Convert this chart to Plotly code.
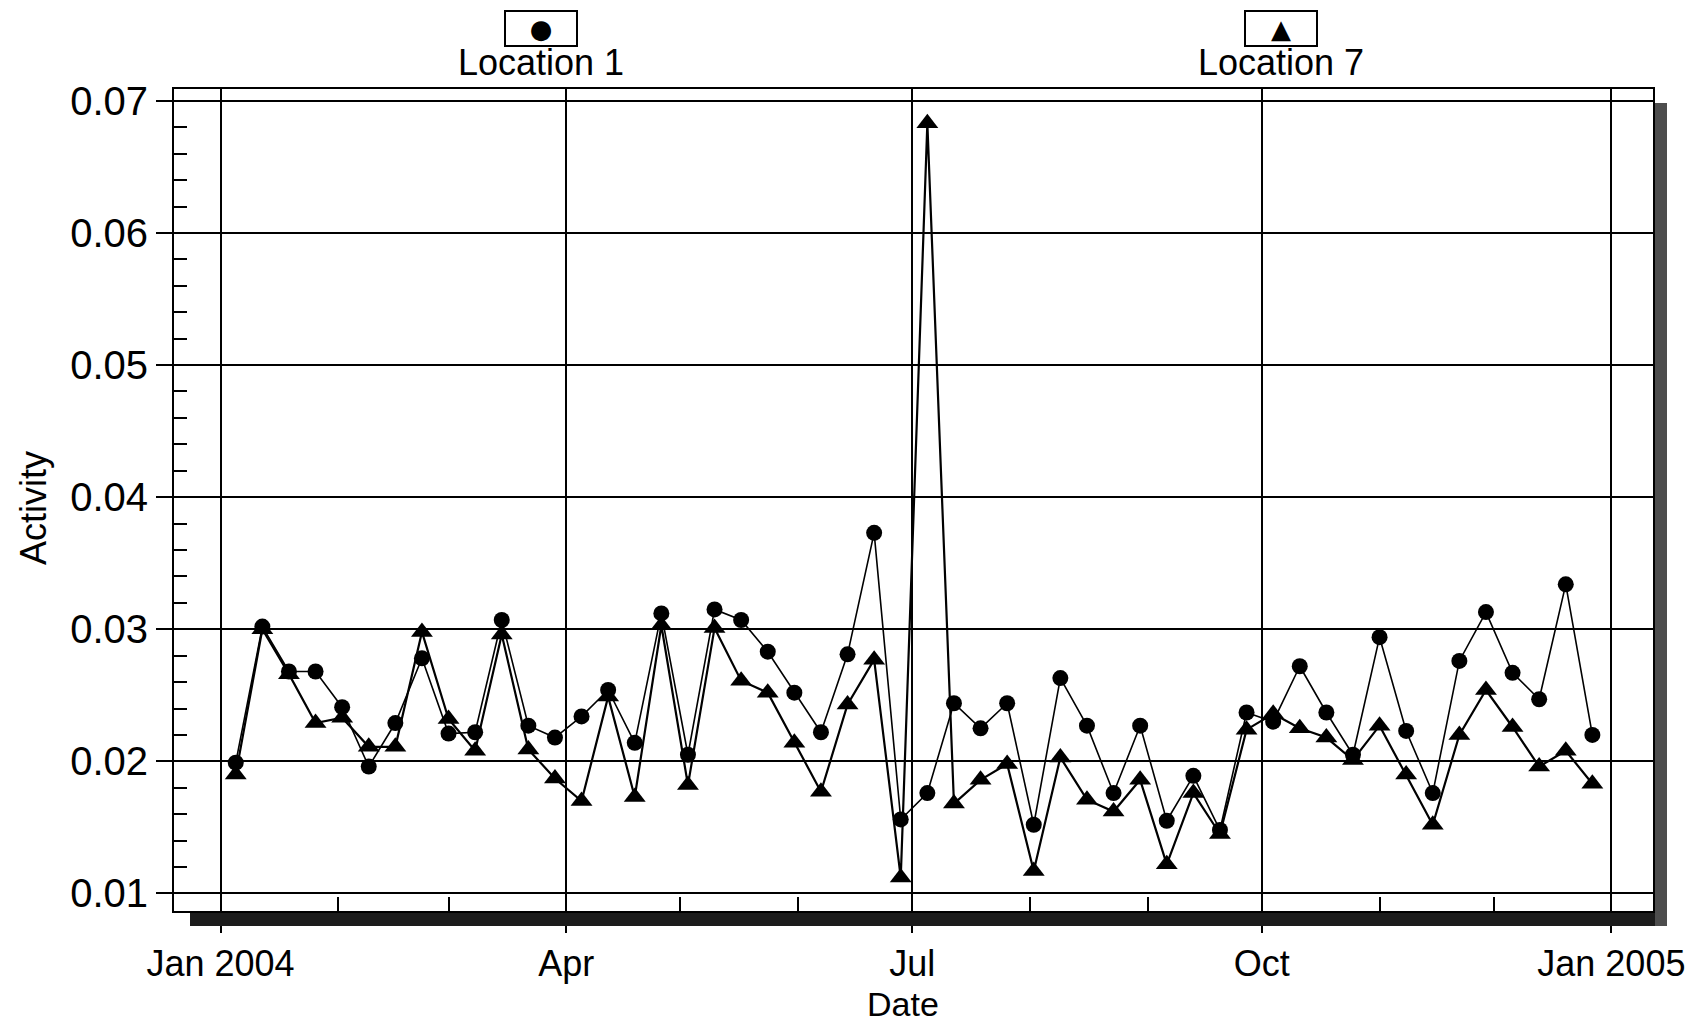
import plotly.graph_objects as go

# Weekly sampling dates (Mondays of 2004)
dates = [
    "2004-01-05", "2004-01-12", "2004-01-19", "2004-01-26",
    "2004-02-02", "2004-02-09", "2004-02-16", "2004-02-23",
    "2004-03-01", "2004-03-08", "2004-03-15", "2004-03-22", "2004-03-29",
    "2004-04-05", "2004-04-12", "2004-04-19", "2004-04-26",
    "2004-05-03", "2004-05-10", "2004-05-17", "2004-05-24", "2004-05-31",
    "2004-06-07", "2004-06-14", "2004-06-21", "2004-06-28",
    "2004-07-05", "2004-07-12", "2004-07-19", "2004-07-26",
    "2004-08-02", "2004-08-09", "2004-08-16", "2004-08-23", "2004-08-30",
    "2004-09-06", "2004-09-13", "2004-09-20", "2004-09-27",
    "2004-10-04", "2004-10-11", "2004-10-18", "2004-10-25",
    "2004-11-01", "2004-11-08", "2004-11-15", "2004-11-22", "2004-11-29",
    "2004-12-06", "2004-12-13", "2004-12-20", "2004-12-27",
]

location_1 = [
    0.0199, 0.0302, 0.0268, 0.0268, 0.0241, 0.0196, 0.0229, 0.0278, 0.0221, 0.0222, 0.0307, 0.0227, 0.0218,
    0.0234, 0.0254, 0.0214, 0.0312, 0.0205, 0.0315, 0.0307, 0.0283, 0.0252, 0.0222, 0.0281, 0.0373, 0.0156,
    0.0176, 0.0244, 0.0225, 0.0244, 0.0152, 0.0263, 0.0227, 0.0176, 0.0227, 0.0155, 0.0189, 0.0148, 0.0237,
    0.0230, 0.0272, 0.0237, 0.0205, 0.0294, 0.0223, 0.0176, 0.0276, 0.0313, 0.0267, 0.0247, 0.0334, 0.0220,
]

location_7 = [
    0.0190, 0.0300, 0.0266, 0.0229, 0.0233, 0.0211, 0.0211, 0.0298, 0.0232, 0.0208, 0.0296, 0.0209, 0.0187,
    0.0170, 0.0249, 0.0173, 0.0303, 0.0182, 0.0301, 0.0261, 0.0252, 0.0214, 0.0177, 0.0243, 0.0277, 0.0112,
    0.0683, 0.0168, 0.0186, 0.0198, 0.0117, 0.0203, 0.0171, 0.0162, 0.0186, 0.0122, 0.0176, 0.0145, 0.0224,
    0.0236, 0.0225, 0.0218, 0.0201, 0.0227, 0.0190, 0.0152, 0.0220, 0.0254, 0.0226, 0.0196, 0.0208, 0.0183,
]

x_tick_vals = ["2004-01-01", "2004-04-01", "2004-07-01", "2004-10-01", "2005-01-01"]
x_tick_text = ["Jan 2004", "Apr", "Jul", "Oct", "Jan 2005"]
month_starts = [
    "2004-02-01", "2004-03-01", "2004-05-01", "2004-06-01", "2004-08-01",
    "2004-09-01", "2004-11-01", "2004-12-01",
]
y_tick_vals = [0.01, 0.02, 0.03, 0.04, 0.05, 0.06, 0.07]
y_tick_text = ["0.01", "0.02", "0.03", "0.04", "0.05", "0.06", "0.07"]

W, H = 1703, 1024
L, R, T, B = 174, 1653, 89, 911  # plot area in pixels
FONT = "Liberation Sans, Arial, sans-serif"


def px(x):
    return (x - L) / (R - L)


def py(y):
    return (B - y) / (B - T)


fig = go.Figure()
fig.add_trace(go.Scatter(
    x=dates, y=location_1, mode="lines+markers", name="Location 1",
    line=dict(color="black", width=1.6),
    marker=dict(symbol="circle", size=16, color="black"),
))
fig.add_trace(go.Scatter(
    x=dates, y=location_7, mode="lines+markers", name="Location 7",
    line=dict(color="black", width=2.2),
    marker=dict(symbol="triangle-up", size=19, color="black"),
))

axis_common = dict(
    showgrid=True, gridcolor="black",
    showline=True, linecolor="black", linewidth=2, mirror=True,
    tickcolor="black", tickwidth=1.6, zeroline=False,
)

fig.update_xaxes(
    type="date",
    range=["2003-12-19 18:00", "2005-01-11 23:00"],
    tickmode="array", tickvals=x_tick_vals, ticktext=x_tick_text,
    ticks="outside", ticklen=20, gridwidth=1.6,
    tickfont=dict(family=FONT, size=36, color="black"),
    minor=dict(tickmode="array", tickvals=month_starts, ticks="inside",
               ticklen=14, tickwidth=1.6, tickcolor="black", showgrid=False),
    **axis_common,
)
fig.update_yaxes(
    range=[0.00867, 0.0709],
    tickmode="array", tickvals=y_tick_vals, ticktext=y_tick_text,
    ticks="outside", ticklen=16, gridwidth=2.4,
    tickfont=dict(family=FONT, size=40, color="black"),
    minor=dict(dtick=0.002, tick0=0, ticks="inside", ticklen=13,
               tickwidth=1.6, tickcolor="black", showgrid=False),
    **axis_common,
)

# heavy frame edges along the bottom and right side
fig.add_shape(type="rect", xref="paper", yref="paper",
              x0=px(190), x1=px(1667), y0=py(926), y1=py(913),
              fillcolor="#1c1c1c", line=dict(width=0), layer="above")
fig.add_shape(type="rect", xref="paper", yref="paper",
              x0=px(1655), x1=px(1667), y0=py(926), y1=py(103),
              fillcolor="#4d4d4d", line=dict(width=0), layer="above")

annotations = [
    # series keys above the plot
    dict(x=px(541), y=py(28), text="●", width=70, height=33,
         font=dict(family="DejaVu Sans", size=26, color="black")),
    dict(x=px(541), y=py(62), text="Location 1",
         font=dict(family=FONT, size=36, color="black")),
    dict(x=px(1281), y=py(28), text="▲", width=70, height=33,
         font=dict(family="DejaVu Sans", size=26, color="black")),
    dict(x=px(1281), y=py(62), text="Location 7",
         font=dict(family=FONT, size=36, color="black")),
    # axis titles
    dict(x=px(33), y=py(508), text="Activity", textangle=-90,
         font=dict(family=FONT, size=36, color="black")),
    dict(x=px(903), y=py(1004), text="Date",
         font=dict(family=FONT, size=34, color="black")),
]
for a in annotations:
    a.update(xref="paper", yref="paper", showarrow=False,
             xanchor="center", yanchor="middle")
    if a["text"] in ("●", "▲"):
        a.update(bordercolor="black", borderwidth=2, borderpad=0, bgcolor="white")
    fig.add_annotation(**a)

fig.update_layout(
    width=W, height=H,
    margin=dict(l=L, r=W - R, t=T, b=H - B, pad=0),
    paper_bgcolor="white", plot_bgcolor="white",
    showlegend=False,
    font=dict(family=FONT, color="black"),
)

fig.write_html("out.html")
